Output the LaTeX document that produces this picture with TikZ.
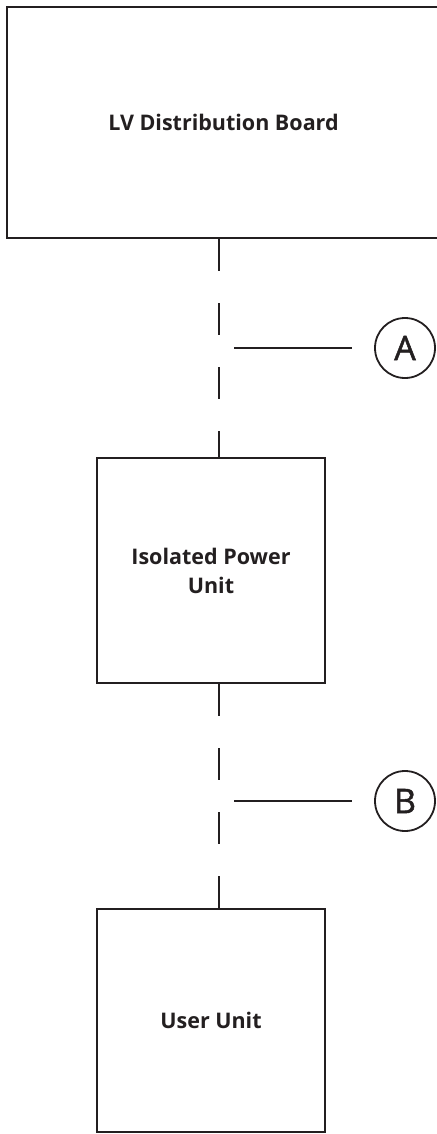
\documentclass[tikz,border=0pt]{standalone}
\usepackage{fontspec}
\setmainfont{Open Sans}
\newfontfamily\tagfont{Open Sans}[FakeBold=1.4]
\usetikzlibrary{positioning}
\definecolor{ink}{HTML}{231F20}

\begin{document}
\begin{tikzpicture}[x=1pt,y=-1pt,
    unitbox/.style={draw=ink,line width=2.2pt,inner sep=0pt,align=center,
      font=\bfseries\fontsize{21.5}{29}\selectfont,text=ink},
    feed/.style={draw=ink,line width=2pt,dash pattern=on 32pt off 32pt},
    leader/.style={draw=ink,line width=2pt,shorten >=22pt},
    tag/.style={circle,draw=ink,line width=1.8pt,minimum size=60pt,inner sep=0pt,
      font=\tagfont\fontsize{34}{34}\selectfont,text=ink}]
  \useasboundingbox (0,0) rectangle (436,1134);

  \node[unitbox,minimum width=433pt,minimum height=231pt] (board) at (223.5,122.5) {LV Distribution Board};
  \node[unitbox,minimum width=228pt,minimum height=225pt] (ipu) at (211,570.5) {Isolated Power\\Unit};
  \node[unitbox,minimum width=228pt,minimum height=223pt] (user) at (211,1020.5) {User Unit};

  \node[tag] (A) at (405,348) {A};
  \node[tag] (B) at (405,801) {B};

  \coordinate (tapA) at (234,348);
  \coordinate (tapB) at (234,801);

  % supply runs
  \draw[feed] (board.south -| 219,0) -- (ipu.north -| 219,0);
  \draw[feed] (ipu.south -| 219,0) -- (user.north -| 219,0);

  % callouts
  \draw[leader] (tapA) -- (A.west);
  \draw[leader] (tapB) -- (B.west);
\end{tikzpicture}
\end{document}
